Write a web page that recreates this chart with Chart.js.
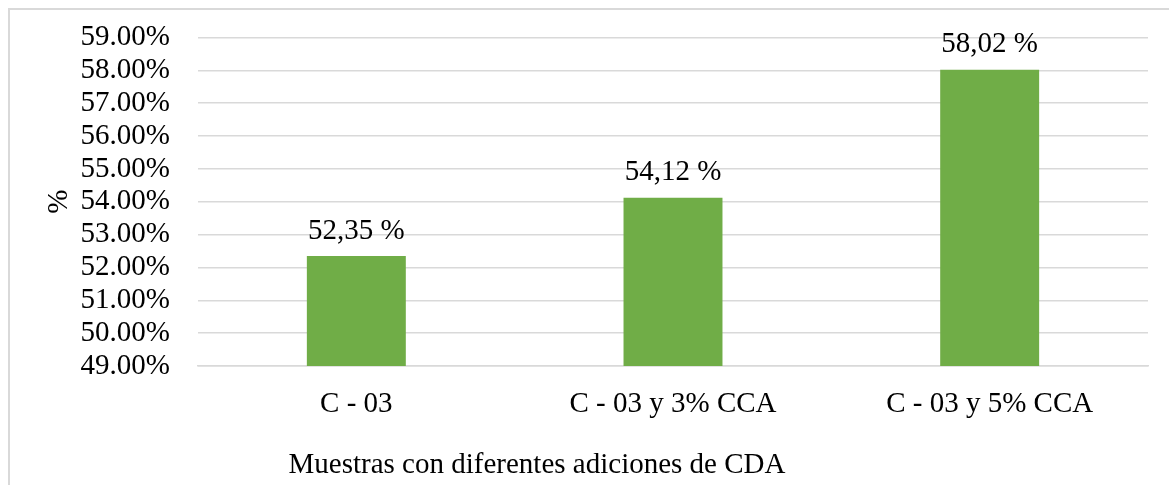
<!DOCTYPE html>
<html>
<head>
<meta charset="utf-8">
<script src="https://cdn.jsdelivr.net/npm/chart.js@4/dist/chart.umd.min.js"></script>
<style>
  html, body { margin: 0; padding: 0; background: #fff; }
  #wrap { position: relative; width: 1169px; height: 485px; overflow: hidden; }
  #frame { position: absolute; left: 8px; top: 8px; width: 1200px; height: 520px;
           border-left: 2px solid #d9d9d9; border-top: 2px solid #d9d9d9; box-sizing: border-box; }
  canvas { position: absolute; left: 0; top: 0; }
</style>
</head>
<body>
<div id="wrap">
  <div id="frame"></div>
  <canvas id="c" width="1169" height="485"></canvas>
</div>
<script>
// Samples and their measured percentages
const categories = ['C - 03', 'C - 03 y 3% CCA', 'C - 03 y 5% CCA'];
const values = [52.35, 54.12, 58.02];
const yMin = 49;
const yMax = 59;
const yStep = 1;
const xTitle = 'Muestras con diferentes adiciones de CDA';
const yTitle = '%';

const FONT = '"Liberation Serif", "Times New Roman", serif';
const FONT_SIZE = 29;

// Value labels above each bar, written with a decimal comma
const barLabels = {
  id: 'barLabels',
  afterDatasetsDraw(chart) {
    const ctx = chart.ctx;
    const meta = chart.getDatasetMeta(0);
    ctx.save();
    ctx.font = FONT_SIZE + 'px ' + FONT;
    ctx.fillStyle = '#000';
    ctx.textAlign = 'center';
    ctx.textBaseline = 'middle';
    meta.data.forEach((bar, i) => {
      const txt = values[i].toFixed(2).replace('.', ',') + ' %';
      ctx.fillText(txt, bar.x, bar.y - 25);
    });
    ctx.restore();
  }
};

// Category-axis caption, set left of the plot centre
const xCaption = {
  id: 'xCaption',
  afterDraw(chart) {
    const ctx = chart.ctx;
    ctx.save();
    ctx.font = FONT_SIZE + 'px ' + FONT;
    ctx.fillStyle = '#000';
    ctx.textAlign = 'center';
    ctx.textBaseline = 'middle';
    ctx.fillText(xTitle, chart.chartArea.left + 339, 465);
    ctx.restore();
  }
};

new Chart(document.getElementById('c'), {
  type: 'bar',
  data: {
    labels: categories,
    datasets: [{
      data: values,
      backgroundColor: '#70ad47',
      borderWidth: 0,
      categoryPercentage: 1,
      barPercentage: 0.3125
    }]
  },
  options: {
    responsive: false,
    animation: false,
    layout: { padding: { left: 30, top: 37.5, right: 21, bottom: 0 } },
    plugins: { legend: { display: false }, tooltip: { enabled: false } },
    scales: {
      x: {
        grid: { display: false, drawTicks: false },
        border: { display: true, color: '#d9d9d9', width: 1.5 },
        ticks: { color: '#000', font: { family: FONT, size: FONT_SIZE }, padding: 21, maxRotation: 0, autoSkip: false },
        afterFit(scale) { scale.height = 119; }
      },
      y: {
        min: yMin,
        max: yMax,
        ticks: {
          stepSize: yStep,
          autoSkip: false,
          color: '#000',
          font: { family: FONT, size: FONT_SIZE },
          padding: 28,
          callback: v => v.toFixed(2) + '%'
        },
        grid: { color: '#d9d9d9', lineWidth: 1.5, drawTicks: false },
        border: { display: false },
        title: {
          display: true,
          text: yTitle,
          color: '#000',
          font: { family: FONT, size: FONT_SIZE },
          padding: { top: 12, bottom: 0 }
        },
        afterFit(scale) {
          scale.width = 168;
          scale.paddingTop = 0;
          scale.paddingBottom = 0;
        }
      }
    }
  },
  plugins: [barLabels, xCaption]
});
</script>
</body>
</html>
